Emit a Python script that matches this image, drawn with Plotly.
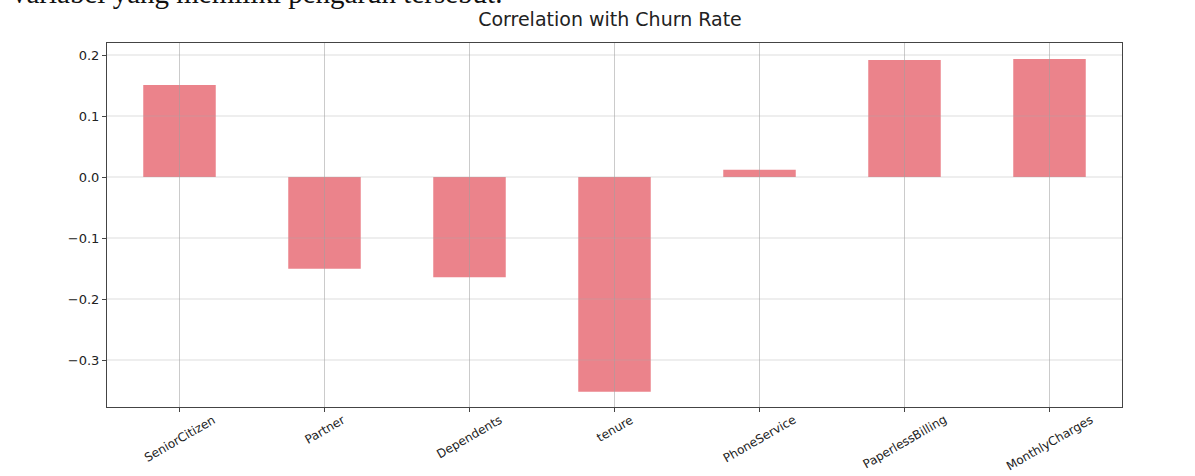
import plotly.graph_objects as go

features = ["SeniorCitizen", "Partner", "Dependents", "tenure",
            "PhoneService", "PaperlessBilling", "MonthlyCharges"]
correlations = [0.1509, -0.1504, -0.1642, -0.3522, 0.0119, 0.1918, 0.1934]
y_ticks = [-0.3, -0.2, -0.1, 0.0, 0.1, 0.2]
y_tick_labels = ["\u22120.3", "\u22120.2", "\u22120.1", "0.0", "0.1", "0.2"]

BAR_COLOR = "#EB838B"
GRID_COLOR = "rgba(160,160,160,0.55)"

fig = go.Figure()
fig.add_trace(go.Bar(
    x=features, y=correlations, width=0.5,
    marker=dict(color=BAR_COLOR, line=dict(width=0)),
    showlegend=False, hoverinfo="x+y",
))

shapes = []
for f in features:
    shapes.append(dict(type="line", xref="x", yref="paper", x0=f, x1=f, y0=0, y1=1,
                       layer="above", line=dict(color=GRID_COLOR, width=1)))
for v in y_ticks:
    shapes.append(dict(type="line", xref="paper", yref="y", x0=0, x1=1, y0=v, y1=v,
                       layer="above", line=dict(color="rgba(170,170,170,0.4)", width=1)))

annotations = [dict(text="variabel yang memiliki pengaruh tersebut.",
                    xref="paper", yref="paper", x=(10 - 107) / 1015, y=1 + (43 - 10.5) / 364,
                    xanchor="left", yanchor="bottom", showarrow=False,
                    font=dict(family="Liberation Serif", size=29, color="#111"))]
for f in features:
    annotations.append(dict(text=f, xref="x", yref="paper", x=f, y=-3 / 364,
                            xanchor="center", yanchor="top", showarrow=False,
                            textangle=-30,
                            font=dict(family="DejaVu Sans", size=12, color="#222")))

fig.update_layout(
    width=1195, height=476,
    margin=dict(l=107, r=73, t=43, b=69),
    paper_bgcolor="white", plot_bgcolor="white",
    font=dict(family="DejaVu Sans", size=12, color="#222"),
    title=dict(text="Correlation with Churn Rate", x=610 / 1195, xanchor="center",
               y=1 - 19 / 476, yanchor="middle",
               font=dict(family="DejaVu Sans", size=19, color="#222")),
    shapes=shapes,
    annotations=annotations,
    xaxis=dict(range=[-0.5, 6.5], showgrid=False, automargin=False,
               showticklabels=False,
               showline=True, linecolor="#444", linewidth=1, mirror=True,
               ticks="outside", ticklen=4, tickcolor="#444"),
    yaxis=dict(range=[-0.377, 0.2197], tickvals=y_ticks, ticktext=y_tick_labels,
               showgrid=False, zeroline=False, automargin=False,
               showline=True, linecolor="#444", linewidth=1, mirror=True,
               ticks="outside", ticklen=4, tickcolor="#444",
               tickfont=dict(size=13, color="#222")),
    bargap=0.5,
)

fig.write_html("out.html", config={"displayModeBar": False},
               post_script="document.body.style.margin='0';")
